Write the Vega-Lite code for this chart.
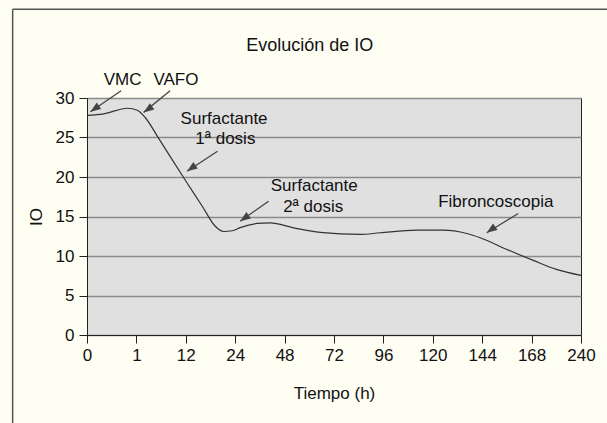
{
  "$schema": "https://vega.github.io/schema/vega-lite/v6.json",
  "autosize": {"type": "none"},
  "padding": {"left": 87, "top": 98, "right": 26, "bottom": 88},
  "width": 494,
  "height": 237,
  "background": "#fefef3",
  "config": {
    "font": "Liberation Sans",
    "view": {"fill": "#e0e0e0", "stroke": "#222", "strokeWidth": 1},
    "axis": {
      "labelFont": "Liberation Sans",
      "labelFontSize": 17,
      "labelColor": "#111",
      "titleFont": "Liberation Sans",
      "titleFontSize": 17,
      "titleFontWeight": "normal",
      "titleColor": "#111",
      "tickColor": "#222",
      "tickSize": 8,
      "domainColor": "#222",
      "gridColor": "#8a8a8a",
      "gridWidth": 1.3
    }
  },
  "datasets": {
    "io": [
      {"h": 0, "v": 27.8},
      {"h": 0.34, "v": 28.0},
      {"h": 0.82, "v": 28.7},
      {"h": 1.2, "v": 28.45},
      {"h": 3.0, "v": 27.5},
      {"h": 6.0, "v": 24.85},
      {"h": 12, "v": 19.5},
      {"h": 16, "v": 16.3},
      {"h": 19.1, "v": 13.8},
      {"h": 21.2, "v": 13.1},
      {"h": 23.3, "v": 13.2},
      {"h": 26.4, "v": 13.6},
      {"h": 34.6, "v": 14.12},
      {"h": 41, "v": 14.2},
      {"h": 52.3, "v": 13.57},
      {"h": 65.3, "v": 12.98},
      {"h": 84.7, "v": 12.73},
      {"h": 94.4, "v": 12.94},
      {"h": 112.3, "v": 13.27},
      {"h": 125, "v": 13.27},
      {"h": 136.5, "v": 12.85},
      {"h": 143, "v": 12.31},
      {"h": 156, "v": 10.83},
      {"h": 170.5, "v": 9.44},
      {"h": 204, "v": 8.3},
      {"h": 240, "v": 7.54}
    ],
    "arrows": [
      {"name": "VMC", "h2": 0.69, "v2": 30.92, "h": 0.07, "v": 28.27},
      {"name": "VAFO", "h2": 8.5, "v2": 30.92, "h": 2.6, "v": 28.18},
      {"name": "Surfactante 1", "h2": 19.7, "v2": 23.25, "h": 12.3, "v": 20.73},
      {"name": "Surfactante 2", "h2": 40.2, "v2": 16.93, "h": 26.4, "v": 14.41},
      {"name": "Fibroncoscopia", "h2": 161.5, "v2": 15.38, "h": 146.2, "v": 12.94}
    ],
    "labels": [
      {"text": "VMC", "h": 0.72, "v": 31.6},
      {"text": "VAFO", "h": 9.8, "v": 31.6},
      {"text": "Surfactante", "h": 21.3, "v": 26.7},
      {"text": "1ª dosis", "h": 21.6, "v": 24.2},
      {"text": "Surfactante", "h": 62.4, "v": 18.29},
      {"text": "2ª dosis", "h": 61.9, "v": 15.6},
      {"text": "Fibroncoscopia", "h": 150.6, "v": 16.2}
    ],
    "heading": [
      {"text": "Evolución de IO", "h": 60.2, "v": 36.0}
    ],
    "frame": [
      {"h": -1.505, "h2": 400, "v": 41.25, "v2": 41.25},
      {"h": -1.505, "h2": -1.505, "v": 41.25, "v2": -20}
    ]
  },
  "encoding": {
    "x": {"field": "h", "type": "quantitative", "scale": {"type": "linear", "domain": [0, 1, 12, 24, 48, 72, 96, 120, 144, 168, 240], "range": [0, 49.4, 98.8, 148.2, 197.6, 247, 296.4, 345.8, 395.2, 444.6, 494], "nice": false, "zero": false}, "axis": {"values": [0, 1, 12, 24, 48, 72, 96, 120, 144, 168, 240], "format": "d", "title": "Tiempo (h)", "labelPadding": 4, "titlePadding": 22, "grid": false, "labelFlush": false, "labelOverlap": false}},
    "y": {"field": "v", "type": "quantitative", "scale": {"domain": [0, 30], "nice": false, "zero": true}, "axis": {"values": [0, 5, 10, 15, 20, 25, 30], "title": "IO", "grid": true, "labelPadding": 5, "titlePadding": 10, "labelOverlap": false}}
  },
  "layer": [
    {
      "data": {"name": "frame"},
      "mark": {"type": "rule", "color": "#555", "strokeWidth": 1.5},
      "encoding": {
        "x2": {"field": "h2"},
        "y2": {"field": "v2"}
      }
    },
    {
      "data": {"name": "io"},
      "mark": {"type": "line", "interpolate": "monotone", "color": "#333", "strokeWidth": 1.2},
      "encoding": {}
    },
    {
      "data": {"name": "arrows"},
      "mark": {"type": "rule", "color": "#444", "strokeWidth": 1.3},
      "encoding": {
        "x2": {"field": "h2"},
        "y2": {"field": "v2"}
      }
    },
    {
      "data": {"name": "arrows"},
      "mark": {"type": "point", "shape": "M0,0L-0.45,1.2L0.45,1.2Z", "filled": true, "color": "#444", "opacity": 1, "size": 300, "angle": 235},
      "encoding": {}
    },
    {
      "data": {"name": "labels"},
      "mark": {"type": "text", "font": "Liberation Sans", "fontSize": 17, "color": "#111", "align": "center", "baseline": "alphabetic"},
      "encoding": {
        "text": {"field": "text"}
      }
    },
    {
      "data": {"name": "heading"},
      "mark": {"type": "text", "font": "Liberation Sans", "fontSize": 18, "color": "#111", "align": "center", "baseline": "alphabetic"},
      "encoding": {
        "text": {"field": "text"}
      }
    }
  ]
}
